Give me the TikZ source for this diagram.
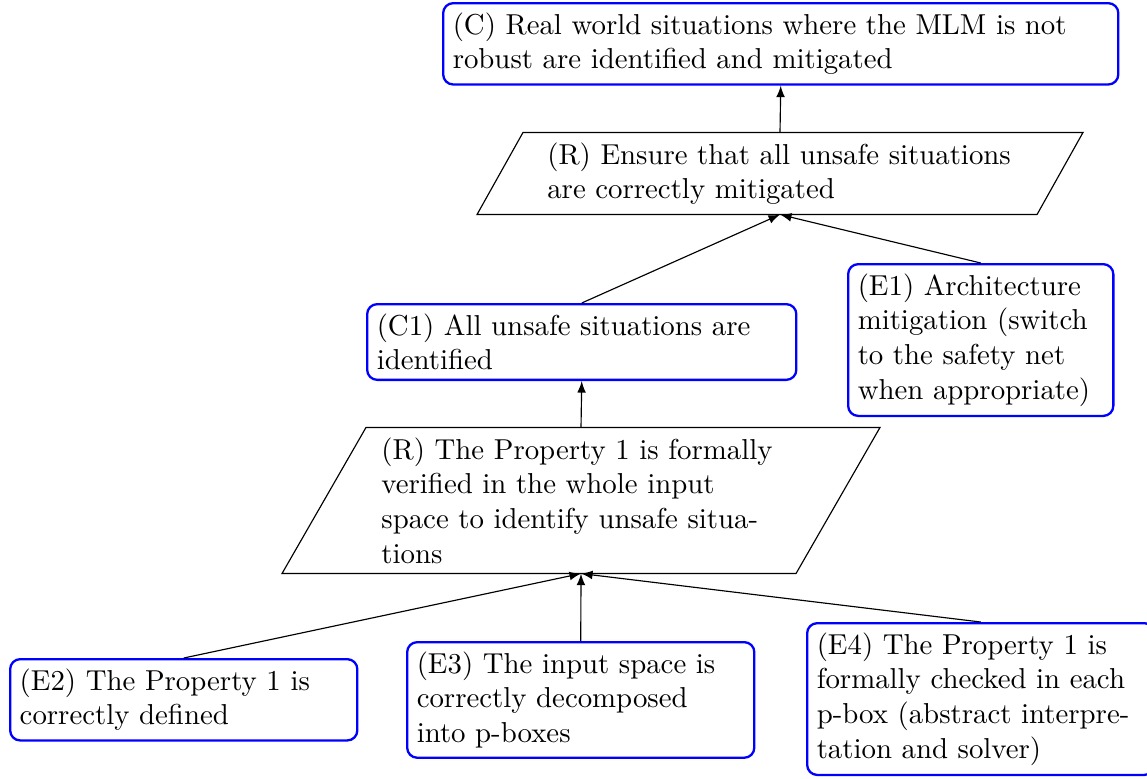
\documentclass[tikz,border=0pt]{standalone}
\usetikzlibrary{calc}
\begin{document}
\begin{tikzpicture}[x=0.347pt,y=-0.347pt,
  goalbox/.style={draw=blue, thick, rounded corners=3.5pt, text width=#1,
    align=left, anchor=north west, inner sep=3.33pt},
  paratext/.style={text width=#1, align=left, inner xsep=0pt, inner ysep=0pt},
  paraline/.style={draw=black, line width=0.4pt},
  conn/.style={-latex, line width=0.4pt}]
\useasboundingbox (0,0) rectangle (1147,778);

% goal / evidence boxes
\node[goalbox=8cm] (c) at (442,2) {(C) Real world situations where the MLM is not robust are identified and mitigated};
\node[goalbox=5cm] (c1) at (366,303) {(C1) All unsafe situations are identified};
\node[goalbox=3cm] (e1) at (847,263) {(E1) Architecture mitigation (switch to the safety net when appropriate)};
\node[goalbox=4cm] (e2) at (9,658) {(E2) The Property 1 is correctly defined};
\node[goalbox=4cm] (e3) at (406,641) {(E3) The input space is correctly decomposed into p-boxes};
\node[goalbox=4cm] (e4) at (806,622) {(E4) The Property 1 is formally checked in each p-box (abstract interpretation and solver)};

% reasoning parallelograms
\node[paratext=161.5pt, minimum height=28.1pt] (r1) at (780,173.5) {(R) Ensure that all unsafe situations are correctly mitigated};
\node[paratext=138.5pt, minimum height=50.3pt] (r2) at (581,500.5) {(R) The Property 1 is formally verified in the whole input space to identify unsafe situa\-tions};

\draw[paraline] ($(r1.south)+(-303,0)$) -- ($(r1.north)+(-257,0)$) -- ($(r1.north)+(303,0)$) -- ($(r1.south)+(257,0)$) -- cycle;
\draw[paraline] ($(r2.south)+(-299,0)$) -- ($(r2.north)+(-215,0)$) -- ($(r2.north)+(299,0)$) -- ($(r2.south)+(215,0)$) -- cycle;

% connectors
\draw[conn] (r1.north) -- (c.south);
\draw[conn] (c1.north) -- (r1.south);
\draw[conn] (e1.north) -- (r1.south);
\draw[conn] (r2.north) -- (c1.south);
\draw[conn] (e2.north) -- (r2.south);
\draw[conn] (e3.north) -- (r2.south);
\draw[conn] (e4.north) -- (r2.south);
\end{tikzpicture}
\end{document}
